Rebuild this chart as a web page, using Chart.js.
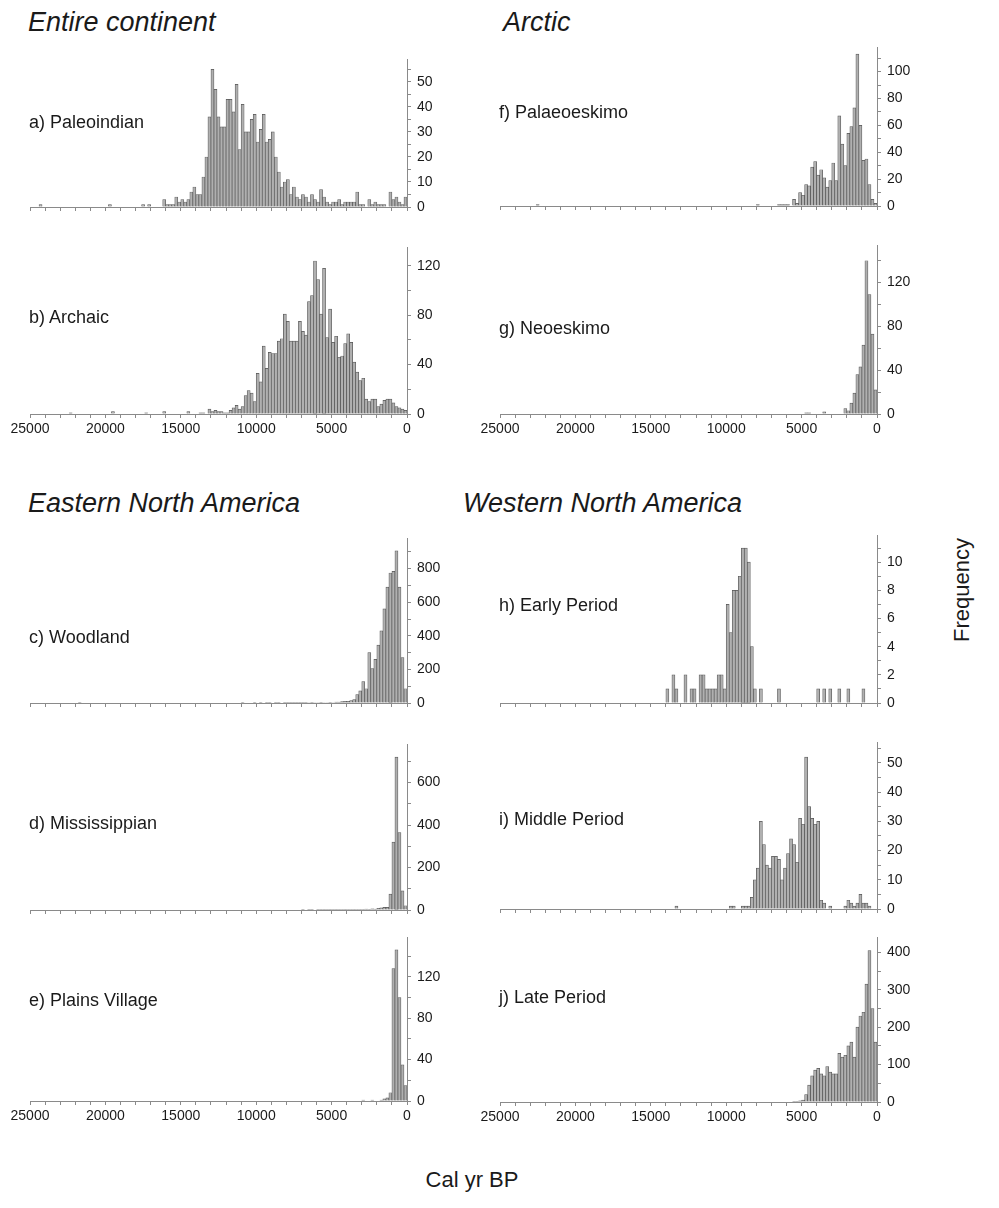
<!DOCTYPE html>
<html>
<head>
<meta charset="utf-8">
<script src="https://cdn.jsdelivr.net/npm/chart.js@4.4.1/dist/chart.umd.min.js"></script>
<style>
  body { margin: 0; background: #fff; font-family: "Liberation Sans", Arial, sans-serif; color: #1a1a1a; }
  #page { position: relative; width: 999px; height: 1208px; overflow: hidden; }
  canvas { position: absolute; }
  .title { position: absolute; font-style: italic; font-size: 27px; line-height: 1; white-space: nowrap; }
  .lab { position: absolute; font-size: 18px; line-height: 1; white-space: nowrap; }
  .axt { position: absolute; font-size: 22px; line-height: 1; white-space: nowrap; }
</style>
</head>
<body>
<div id="page"></div>
<script>
// 200-year bins, oldest (25000 cal BP) on the left, 0 on the right
var BIN = 200;
var binCenters = [];
for (var k = 0; k < 125; k++) binCenters.push(25000 - BIN * k - BIN / 2);

// each row below = 25 bins = 5000 years
var paleoindian = [
  0,0,0,1,0,0,0,0,0,0,0,0,0,0,0,0,0,0,0,0,0,0,0,0,0,
  0,1,0,0,0,0,0,0,0,0,0,0,1,0,1,0,0,0,0,3,1,1,1,4,2,
  3,2,3,6,8,5,5,12,20,36,55,47,36,32,32,43,43,38,49,23,41,30,30,35,37,
  26,31,37,26,27,30,20,14,8,10,11,5,8,4,3,5,4,2,5,3,2,7,4,2,1,
  2,2,3,1,2,2,2,2,6,1,1,0,3,1,2,1,1,1,0,6,3,4,2,1,4
];
var archaic = [
  0,0,0,0,0,0,0,0,0,0,0,0,0,1,0,0,0,0,0,0,0,0,0,0,0,
  0,0,2,0,0,0,0,0,0,0,0,0,0,1,0,0,0,0,0,2,0,0,0,0,0,
  0,0,2,0,0,0,1,1,0,4,2,3,2,2,1,1,3,5,7,4,6,15,19,17,10,
  33,26,55,37,50,49,49,59,61,81,75,59,59,59,75,67,64,91,96,124,109,81,118,62,85,
  58,63,46,47,57,65,58,42,34,27,29,12,10,12,12,6,8,11,12,12,9,6,5,4,3
];
var woodland = [
  0,0,0,0,0,0,0,0,0,0,0,0,0,0,0,0,2,0,0,0,0,0,0,0,0,
  0,0,0,0,0,0,0,0,0,0,0,0,0,0,0,0,0,0,0,0,0,0,0,0,0,
  0,0,0,0,0,0,0,0,0,0,0,0,0,0,0,0,0,0,0,0,1,0,0,0,1,
  0,1,0,1,1,0,1,1,0,2,1,1,2,1,1,2,2,3,2,3,3,4,3,3,4,
  3,5,5,8,10,10,15,20,50,72,127,85,300,205,260,345,430,560,690,774,784,906,690,270,85
];
var mississippian = [
  0,0,0,0,0,0,0,0,0,0,0,0,0,0,0,0,0,0,0,0,0,0,0,0,0,
  0,0,0,0,0,0,0,0,0,0,0,0,0,0,0,0,0,0,0,0,0,0,0,0,0,
  0,0,0,0,0,0,0,0,0,0,0,0,0,0,0,0,0,0,0,0,0,0,0,0,0,
  0,0,0,0,0,0,0,0,0,0,0,0,0,0,0,1,0,1,1,0,1,1,1,2,1,
  2,1,2,2,3,2,2,3,2,3,3,4,3,5,4,8,10,12,12,75,320,720,365,90,20
];
var plainsVillage = [
  0,0,0,0,0,0,0,0,0,0,0,0,0,0,0,0,0,0,0,0,0,0,0,0,0,
  0,0,0,0,0,0,0,0,0,0,0,0,0,0,0,0,0,0,0,0,0,0,0,0,0,
  0,0,0,0,0,0,0,0,0,0,0,0,0,0,0,0,0,0,0,0,0,0,0,0,0,
  0,0,0,0,0,0,0,0,0,0,0,0,0,0,0,0,0,0,0,0,0,0,0,0,0,
  0,0,0,0,0,0,0,0,0,0,1,0,0,1,0,0,1,2,3,8,128,146,100,35,15
];
var palaeoeskimo = [
  0,0,0,0,0,0,0,0,0,0,0,0,1,0,0,0,0,0,0,0,0,0,0,0,0,
  0,0,0,0,0,0,0,0,0,0,0,0,0,0,0,0,0,0,0,0,0,0,0,0,0,
  0,0,0,0,0,0,0,0,0,0,0,0,0,0,0,0,0,0,0,0,0,0,0,0,0,
  0,0,0,0,0,0,0,0,0,0,1,0,0,0,0,0,0,1,1,1,1,0,5,2,10,
  8,16,15,29,33,23,27,21,14,19,32,19,67,46,30,54,59,73,113,60,34,35,16,5,2
];
var neoeskimo = [
  0,0,0,0,0,0,0,0,0,0,0,0,0,0,0,0,0,0,0,0,0,0,0,0,0,
  0,0,0,0,0,0,0,0,0,0,0,0,0,0,0,0,0,0,0,0,0,0,0,0,0,
  0,0,0,0,0,0,0,0,0,0,0,0,0,0,0,0,0,0,0,0,0,0,0,0,0,
  0,0,0,0,0,0,0,0,0,0,0,0,0,0,0,0,0,0,0,0,0,0,0,0,0,
  0,1,1,0,0,0,0,2,0,0,0,0,0,0,5,3,10,19,36,43,63,140,109,73,22
];
var earlyPeriod = [
  0,0,0,0,0,0,0,0,0,0,0,0,0,0,0,0,0,0,0,0,0,0,0,0,0,
  0,0,0,0,0,0,0,0,0,0,0,0,0,0,0,0,0,0,0,0,0,0,0,0,0,
  0,0,0,0,0,1,0,2,1,0,0,2,0,1,1,0,2,2,1,1,1,1,2,2,1,
  7,5,8,8,9,11,11,10,4,1,0,1,0,0,0,0,0,1,0,0,0,0,0,0,0,
  0,0,0,0,0,1,0,1,0,1,0,0,1,0,0,1,0,0,0,0,1,0,0,0,0
];
var middlePeriod = [
  0,0,0,0,0,0,0,0,0,0,0,0,0,0,0,0,0,0,0,0,0,0,0,0,0,
  0,0,0,0,0,0,0,0,0,0,0,0,0,0,0,0,0,0,0,0,0,0,0,0,0,
  0,0,0,0,0,0,0,0,1,0,0,0,0,0,0,0,0,0,0,0,0,0,0,0,0,
  0,1,1,0,0,1,1,1,4,10,14,30,22,15,14,18,18,17,10,14,19,24,22,16,31,
  29,52,35,31,29,30,3,2,0,1,0,0,0,0,1,3,2,1,2,5,2,2,1,0,0
];
var latePeriod = [
  0,0,0,0,0,0,0,0,0,0,0,0,0,0,0,0,0,0,0,0,0,0,0,0,0,
  0,0,0,0,0,0,0,0,0,0,0,0,0,0,0,0,0,0,0,0,0,0,0,0,0,
  0,0,0,0,0,0,0,0,0,0,0,0,0,0,0,0,0,0,0,0,0,0,0,0,0,
  0,0,0,0,0,0,0,0,0,0,0,0,0,0,0,0,0,0,0,0,0,0,1,2,3,
  5,20,45,70,85,90,75,70,95,80,75,75,130,120,125,150,160,120,200,230,240,315,405,250,160
];

var FONT = '"Liberation Sans", Arial, sans-serif';
var PAD_L = 25, PAD_T = 12, Y_W = 50, X_H = 28, PLOT_W = 377;
var colLeft = [30, 500];

// max values are kept off "almost whole" multiples of the minor step,
// otherwise Chart.js spreads the ticks evenly between 0 and max
var panels = [
  { name: 'a) Paleoindian',    data: paleoindian,   col: 0, top: 57,  base: 207,  max: 59,   minor: 5,   major: 10,  labelY: 122,  xLabels: false },
  { name: 'b) Archaic',        data: archaic,       col: 0, top: 245, base: 414,  max: 135,  minor: 20,  major: 40,  labelY: 317,  xLabels: true },
  { name: 'c) Woodland',       data: woodland,      col: 0, top: 536, base: 703,  max: 980,  minor: 100, major: 200, labelY: 637,  xLabels: false },
  { name: 'd) Mississippian',  data: mississippian, col: 0, top: 742, base: 910,  max: 780,  minor: 100, major: 200, labelY: 823,  xLabels: false },
  { name: 'e) Plains Village', data: plainsVillage, col: 0, top: 935, base: 1101, max: 158,  minor: 20,  major: 40,  labelY: 1000, xLabels: true },
  { name: 'f) Palaeoeskimo',   data: palaeoeskimo,  col: 1, top: 45,  base: 206,  max: 118,  minor: 10,  major: 20,  labelY: 112,  xLabels: false },
  { name: 'g) Neoeskimo',      data: neoeskimo,     col: 1, top: 243, base: 414,  max: 154,  minor: 20,  major: 40,  labelY: 328,  xLabels: true },
  { name: 'h) Early Period',   data: earlyPeriod,   col: 1, top: 533, base: 703,  max: 11.9, minor: 1,   major: 2,   labelY: 605,  xLabels: false },
  { name: 'i) Middle Period',  data: middlePeriod,  col: 1, top: 740, base: 909,  max: 57,   minor: 5,   major: 10,  labelY: 819,  xLabels: false },
  { name: 'j) Late Period',    data: latePeriod,    col: 1, top: 935, base: 1102, max: 440,  minor: 50,  major: 100, labelY: 997,  xLabels: true }
];

var page = document.getElementById('page');

function addText(cls, text, left, centerY, size) {
  var d = document.createElement('div');
  d.className = cls;
  d.textContent = text;
  d.style.left = left + 'px';
  d.style.top = (centerY - size / 2) + 'px';
  page.appendChild(d);
  return d;
}

// true when v sits on a multiple of step (ticks can carry float noise)
function onStep(v, step) {
  var q = v / step;
  return Math.abs(q - Math.round(q)) < 1e-6;
}

addText('title', 'Entire continent', 28, 22, 27);
addText('title', 'Arctic', 503, 22, 27);
addText('title', 'Eastern North America', 28, 503, 27);
addText('title', 'Western North America', 463, 503, 27);

var xt = addText('axt', 'Cal yr BP', 0, 1180, 22);
xt.style.left = '472px';
xt.style.transform = 'translateX(-50%)';
var yt = addText('axt', 'Frequency', 962, 590, 22);
yt.style.left = '962px';
yt.style.transform = 'translateX(-50%) rotate(-90deg)';

panels.forEach(function (p) {
  var c = document.createElement('canvas');
  c.width = PAD_L + PLOT_W + Y_W;
  c.height = PAD_T + (p.base - p.top) + X_H;
  c.style.left = (colLeft[p.col] - PAD_L) + 'px';
  c.style.top = (p.top - PAD_T) + 'px';
  page.appendChild(c);

  addText('lab', p.name, colLeft[p.col] - 1, p.labelY, 18);

  new Chart(c.getContext('2d'), {
    type: 'bar',
    data: {
      labels: binCenters,
      datasets: [{
        data: p.data,
        backgroundColor: '#b0b0b0',
        borderColor: '#555',
        borderWidth: 0.7,
        barPercentage: 1,
        categoryPercentage: 1
      }]
    },
    options: {
      responsive: false,
      animation: false,
      layout: { padding: { left: PAD_L, top: PAD_T, right: 0, bottom: 0 } },
      plugins: { legend: { display: false }, tooltip: { enabled: false } },
      scales: {
        x: {
          type: 'linear',
          reverse: true,
          min: 0,
          max: 25000,
          offset: false,
          grid: { drawOnChartArea: false, offset: false, tickLength: 4, color: '#8a8a8a' },
          border: { color: '#8a8a8a' },
          ticks: {
            stepSize: 1000,
            autoSkip: false,
            maxRotation: 0,
            padding: 3,
            color: '#1a1a1a',
            font: { family: FONT, size: 14 },
            callback: function (v) { return p.xLabels && onStep(v, 5000) ? String(Math.round(v)) : ''; }
          },
          afterFit: function (s) { s.height = X_H; }
        },
        y: {
          position: 'right',
          min: 0,
          max: p.max,
          grid: { drawOnChartArea: false, tickLength: 4, color: '#8a8a8a' },
          border: { color: '#8a8a8a' },
          ticks: {
            stepSize: p.minor,
            autoSkip: false,
            includeBounds: false,
            padding: 6,
            color: '#1a1a1a',
            font: { family: FONT, size: 14 },
            callback: function (v) { return onStep(v, p.major) ? String(Math.round(v)) : ''; }
          },
          afterFit: function (s) { s.width = Y_W; }
        }
      }
    }
  });
});
</script>
</body>
</html>
